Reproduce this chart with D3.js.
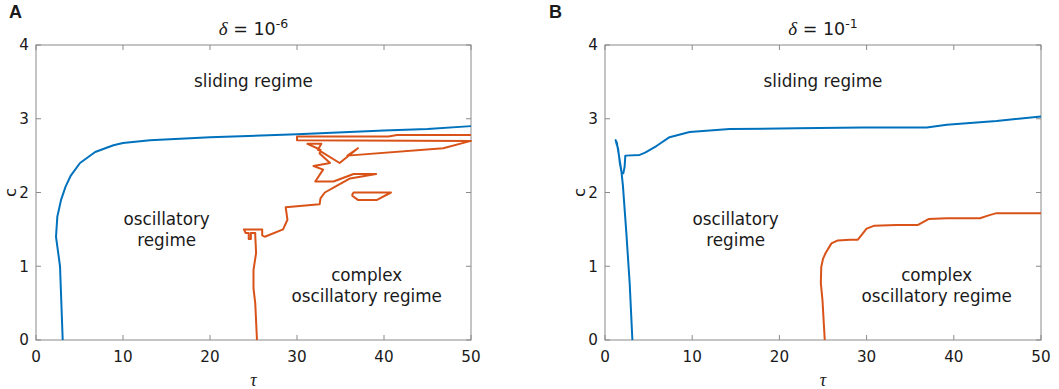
<!DOCTYPE html>
<html>
<head>
<meta charset="utf-8">
<script src="https://cdn.jsdelivr.net/npm/d3@7"></script>
<style>
  body { margin: 0; background: #fff; }
  text { font-family: 'DejaVu Sans', sans-serif; fill: #1a1a1a; }
  .tick-label { font-size: 15.2px; }
  .region { font-size: 16.8px; }
  .panel-letter { font-family: 'Liberation Sans', Arial, sans-serif; font-weight: bold; font-size: 18px; }
  .greek { font-family: 'Liberation Serif', serif; font-style: italic; }
</style>
</head>
<body>
<script>
	var W = 1059, H = 389;

	// axis ticks
	var tauTicks = [0, 10, 20, 30, 40, 50];
	var cTicks = [0, 1, 2, 3, 4];

	// panel A (delta = 1e-6) : [tau, c]
	var blueA = [[3.07,0],[2.76,1.0],[2.3,1.4],[2.45,1.67],[2.88,1.9],[3.4,2.08],[4.0,2.23],[5.06,2.4],
		[6.8,2.55],[8.9,2.64],[10,2.67],[13.1,2.71],[20,2.75],[30,2.79],[40,2.84],[45,2.86],[50,2.9]];

	var orangeA = [[25.4,0],[25.2,0.5],[25.0,0.7],[25.0,0.95],[25.3,1.18],[25.2,1.42],[25.2,1.45],
		[24.7,1.45],[24.7,1.37],[24.45,1.37],[24.45,1.45],[24.1,1.45],[23.9,1.5],[26.0,1.5],[26.0,1.42],
		[26.3,1.4],[28.4,1.5],[28.9,1.63],[28.7,1.8],[32.6,1.84],[32.7,1.92],[33.2,2.0],[34.4,2.08],
		[36.1,2.19],[39.1,2.25],[36.5,2.25],[34.2,2.15],[32.1,2.15],[33.0,2.31],[31.9,2.36],[33.8,2.40],
		[32.6,2.53],[32.7,2.58],[31.2,2.66],[32.8,2.66],[32.4,2.58],[34.9,2.4],[37.0,2.6],[35.8,2.5],
		[46.8,2.6],[50,2.7],[30,2.71],[30,2.76],[40.5,2.76],[41.5,2.78],[50,2.78]];

	var loopA = [[36.3,1.96],[36.5,2.0],[40.8,2.0],[39.2,1.9],[37.0,1.9],[36.3,1.96]];

	// panel B (delta = 1e-1)
	var blueB = [[3.14,0],[2.83,0.77],[2.45,1.45],[2.05,2.1],[1.87,2.3],[1.6,2.5],[1.35,2.68],[1.22,2.71],
		[1.35,2.65],[1.5,2.6],[1.7,2.4],[1.9,2.27],[2.1,2.26],[2.25,2.35],[2.33,2.5],[3.98,2.51],[4.6,2.54],
		[5.9,2.63],[7.4,2.75],[9.7,2.82],[14.3,2.86],[22,2.87],[29.6,2.88],[36.9,2.88],[39.2,2.92],
		[44.9,2.97],[50,3.03]];

	var orangeB = [[25.2,0],[24.94,0.54],[24.75,0.77],[24.8,0.99],[25.0,1.1],[25.3,1.18],[25.97,1.31],
		[26.7,1.35],[28.1,1.36],[29.0,1.36],[30.0,1.51],[30.9,1.55],[33.4,1.56],[35.9,1.56],[37.1,1.64],
		[39.2,1.65],[43,1.65],[44,1.69],[44.9,1.72],[50,1.72]];

	var svg = d3.select('body')
		.append('svg')
		.attr('width', W)
		.attr('height', H);

	function drawPanel(p) {
		var width = p.right - p.left;
		var height = 295;

		var xScale = d3.scaleLinear().domain([0, 50]).range([0, width]);
		var yScale = d3.scaleLinear().domain([0, 4]).range([height, 0]);

		var g = svg.append('g')
			.attr('transform', 'translate(' + p.left + ',45)');

		// frame
		g.append('rect')
			.attr('width', width)
			.attr('height', height)
			.attr('fill', 'none')
			.attr('stroke', '#8a8a8a')
			.attr('stroke-width', 1);

		// inward ticks on all four sides
		tauTicks.forEach(function(t) {
			g.append('line').attr('x1', xScale(t)).attr('x2', xScale(t))
				.attr('y1', height).attr('y2', height - 5).attr('stroke', '#8a8a8a');
			g.append('line').attr('x1', xScale(t)).attr('x2', xScale(t))
				.attr('y1', 0).attr('y2', 5).attr('stroke', '#8a8a8a');
			g.append('text')
				.attr('class', 'tick-label')
				.attr('x', xScale(t))
				.attr('y', height + 22)
				.attr('text-anchor', 'middle')
				.text(t);
		});

		cTicks.forEach(function(c) {
			g.append('line').attr('x1', 0).attr('x2', 5)
				.attr('y1', yScale(c)).attr('y2', yScale(c)).attr('stroke', '#8a8a8a');
			g.append('line').attr('x1', width).attr('x2', width - 5)
				.attr('y1', yScale(c)).attr('y2', yScale(c)).attr('stroke', '#8a8a8a');
			g.append('text')
				.attr('class', 'tick-label')
				.attr('x', -7)
				.attr('y', yScale(c))
				.attr('dy', '0.36em')
				.attr('text-anchor', 'end')
				.text(c);
		});

		var line = d3.line()
			.x(function(d) { return xScale(d[0]); })
			.y(function(d) { return yScale(d[1]); });

		p.orange.forEach(function(s) {
			g.append('path')
				.attr('d', line(s))
				.attr('fill', 'none')
				.attr('stroke', '#D95319')
				.attr('stroke-width', 2)
				.attr('stroke-linejoin', 'round');
		});

		g.append('path')
			.attr('d', line(p.blue))
			.attr('fill', 'none')
			.attr('stroke', '#0072BD')
			.attr('stroke-width', 2)
			.attr('stroke-linejoin', 'round');

		// title
		var title = g.append('text')
			.attr('x', width / 2)
			.attr('y', -10)
			.attr('text-anchor', 'middle')
			.style('font-size', '17.5px');
		title.append('tspan').attr('class', 'greek').style('font-size', '19px').text('δ');
		title.append('tspan').text(' = 10');
		title.append('tspan').attr('dy', -7).style('font-size', '12.5px').text(p.exp);

		// axis labels
		g.append('text')
			.attr('class', 'greek')
			.attr('x', width / 2)
			.attr('y', height + 46)
			.attr('text-anchor', 'middle')
			.style('font-size', '18px')
			.text('τ');

		g.append('text')
			.attr('transform', 'translate(-20.5,' + height / 2 + ') rotate(-90)')
			.attr('text-anchor', 'middle')
			.style('font-size', '16.5px')
			.text('c');

		// panel letter
		svg.append('text')
			.attr('class', 'panel-letter')
			.attr('x', p.letterX)
			.attr('y', 18)
			.text(p.letter);

		// region labels
		function label(lines, cx, y) {
			lines.forEach(function(s, i) {
				g.append('text')
					.attr('class', 'region')
					.attr('x', cx - p.left)
					.attr('y', y + i * 20.5 - 45)
					.attr('text-anchor', 'middle')
					.text(s);
			});
		}
		label(['sliding regime'], p.left + width / 2, 87);
		label(['oscillatory', 'regime'], p.oscX, 225);
		label(['complex', 'oscillatory regime'], p.compX, 281);
	}

	drawPanel({left: 36, right: 471, blue: blueA, orange: [orangeA, loopA], exp: '-6',
		letter: 'A', letterX: 9, oscX: 166.7, compX: 366.7});
	drawPanel({left: 605, right: 1041, blue: blueB, orange: [orangeB], exp: '-1',
		letter: 'B', letterX: 549, oscX: 735.7, compX: 936.7});
</script>
</body>
</html>
